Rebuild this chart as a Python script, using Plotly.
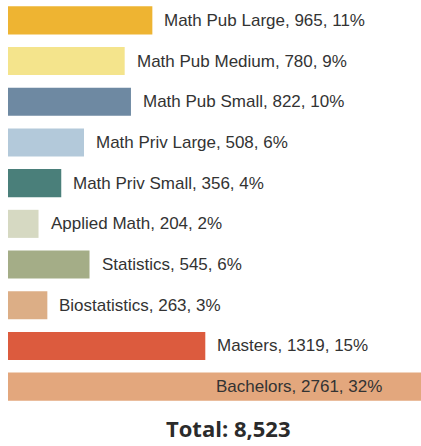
import plotly.graph_objects as go

categories = ["Math Pub Large", "Math Pub Medium", "Math Pub Small", "Math Priv Large",
              "Math Priv Small", "Applied Math", "Statistics", "Biostatistics",
              "Masters", "Bachelors"]
values = [965, 780, 822, 508, 356, 204, 545, 263, 1319, 2761]
colors = ["#EEB432", "#F4E48C", "#6E89A2", "#B3C9DA", "#4A7F7A",
          "#D6D9C2", "#A4AD87", "#DCAE86", "#DC5B3E", "#E3A77D"]

total = sum(values)

fig = go.Figure(go.Bar(
    y=categories, x=values, orientation="h",
    marker=dict(color=colors, line=dict(width=0)),
    hoverinfo="skip",
))

annotations = []
vmax = max(values)
for c, v in zip(categories, values):
    pct = round(100 * v / total)
    txt = f"{c}, {v}, {pct}%"
    if v == vmax:
        annotations.append(dict(x=v, y=c, xref="x", yref="y", text=txt, showarrow=False,
                                xanchor="right", xshift=-37,
                                font=dict(family="Liberation Sans, Arial", size=17, color="#333333")))
    else:
        annotations.append(dict(x=v, y=c, xref="x", yref="y", text=txt, showarrow=False,
                                xanchor="left", xshift=10,
                                font=dict(family="Liberation Sans, Arial", size=17, color="#333333")))

annotations.append(dict(x=225 / 421, xref="paper", y=-38 / 407, yref="paper", yanchor="bottom",
                        text=f"<b>Total: {total:,}</b>", showarrow=False,
                        font=dict(family="Open Sans", size=22, color="#2b2b2b")))

fig.update_layout(
    width=421, height=446,
    margin=dict(l=8, r=0, t=0, b=39),
    paper_bgcolor="white", plot_bgcolor="white",
    bargap=0.31,
    showlegend=False,
    xaxis=dict(range=[0, vmax], visible=False, fixedrange=True),
    yaxis=dict(autorange="reversed", visible=False, fixedrange=True),
    annotations=annotations,
)

fig.write_html("out.html", config={"displayModeBar": False},
               post_script="document.body.style.margin='0';document.body.style.overflow='hidden';")
